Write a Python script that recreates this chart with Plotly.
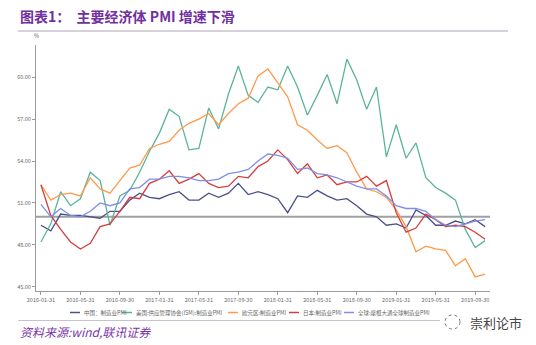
import pandas as pd
import plotly.graph_objects as go

dates = [d.strftime("%Y-%m-%d") for d in pd.date_range("2016-01-31", periods=46, freq="ME")]

china = [49.4, 49.0, 50.2, 50.1, 50.1, 50.0, 49.9, 50.4, 50.4, 51.2, 51.7, 51.4,
         51.3, 51.6, 51.8, 51.2, 51.2, 51.7, 51.4, 51.7, 52.4, 51.6, 51.8, 51.6,
         51.3, 50.3, 51.5, 51.4, 51.9, 51.5, 51.2, 51.3, 50.8, 50.2, 50.0, 49.4,
         49.5, 49.2, 50.5, 50.1, 49.4, 49.4, 49.7, 49.5, 49.8, 49.3]
usa = [48.2, 49.5, 51.8, 50.8, 51.3, 53.2, 52.6, 49.4, 51.5, 51.9, 53.2, 54.7,
       56.0, 57.7, 57.2, 54.8, 54.9, 57.8, 56.3, 58.8, 60.8, 58.7, 58.2, 59.3,
       59.1, 60.8, 59.3, 57.3, 58.7, 60.2, 58.1, 61.3, 59.8, 57.7, 59.3, 54.3,
       56.6, 54.2, 55.3, 52.8, 52.1, 51.7, 51.2, 49.1, 47.8, 48.3]
euro = [52.3, 51.2, 51.6, 51.7, 51.5, 52.8, 52.0, 51.7, 52.6, 53.5, 53.7, 54.9,
        55.2, 55.4, 56.2, 56.7, 57.0, 57.4, 56.6, 57.4, 58.1, 58.5, 60.1, 60.6,
        59.6, 58.6, 56.6, 56.2, 55.5, 54.9, 55.1, 54.6, 53.2, 52.0, 51.8, 51.4,
        50.5, 49.3, 47.5, 47.9, 47.7, 47.6, 46.5, 47.0, 45.7, 45.9]
japan = [52.3, 50.1, 49.1, 48.2, 47.7, 48.1, 49.3, 49.5, 50.4, 51.4, 51.3, 52.4,
         52.7, 53.3, 52.4, 52.7, 53.1, 52.4, 52.1, 52.2, 52.9, 52.8, 53.6, 54.0,
         54.8, 54.1, 53.1, 53.8, 52.8, 53.0, 52.3, 52.5, 52.5, 52.9, 52.2, 52.6,
         50.3, 48.9, 49.2, 50.2, 49.8, 49.3, 49.4, 49.3, 48.9, 48.4]
world = [50.9, 50.0, 50.6, 50.1, 50.0, 50.4, 51.0, 50.8, 51.0, 52.0, 52.1, 52.7,
         52.7, 52.9, 52.9, 52.8, 52.6, 52.6, 52.7, 53.1, 53.2, 53.4, 54.0, 54.5,
         54.4, 54.2, 53.4, 53.5, 53.1, 53.0, 52.8, 52.5, 52.2, 52.0, 52.0, 51.5,
         50.8, 50.6, 50.6, 50.4, 49.8, 49.4, 49.3, 49.5, 49.7, 49.8]

series_names = ["中国：制造业PMI", "美国:供应管理协会(ISM):制造业PMI", "欧元区:制造业PMI",
                "日本:制造业PMI", "全球:摩根大通全球制造业PMI"]
series_values = [china, usa, euro, japan, world]
colors = ["#4B5089", "#5BB49B", "#FF9A4A", "#D63E3E", "#7F8FE8"]
BASELINE = 50
y_ticks = [45, 48, 51, 54, 57, 60]

fig = go.Figure()
for name, vals, c in zip(series_names, series_values, colors):
    fig.add_trace(go.Scatter(x=dates, y=vals, mode="lines", name=name,
                             line=dict(color=c, width=1.3), showlegend=False))

fig.add_shape(type="line", xref="paper", x0=0, x1=1, yref="y", y0=BASELINE, y1=BASELINE,
              line=dict(color="#A0A0A0", width=2), layer="below")

fig.update_layout(
    width=536, height=345,
    margin=dict(l=36, r=46, t=45, b=54),
    plot_bgcolor="white", paper_bgcolor="white",
    font=dict(family="Noto Sans CJK SC", color="#666666"),
    xaxis=dict(type="category", range=[-0.5, 45.5],
               tickvals=dates[::4], ticktext=dates[::4],
               tickfont=dict(size=5.5, color="#666666"),
               showline=True, linecolor="#9A9A9A", linewidth=1,
               ticks="outside", ticklen=3, tickcolor="#9A9A9A",
               showgrid=False, zeroline=False, tickangle=0),
    yaxis=dict(range=[44.69, 62.31], tickvals=y_ticks,
               ticktext=[f"{v:.2f}" for v in y_ticks],
               tickfont=dict(size=5.5, color="#666666"),
               showline=True, linecolor="#9A9A9A", linewidth=1,
               ticks="outside", ticklen=3, tickcolor="#9A9A9A",
               showgrid=False, zeroline=False),
)

W, H = 536, 345
def px(x):
    return x / W
def py(y):
    return 1 - y / H

ann = []
shapes = []
# title
ann.append(dict(text="<b>图表1：  主要经济体 PMI 增速下滑</b>", xref="paper", yref="paper",
                x=0, y=0, showarrow=False))
fig.layout.annotations = []
# use container coordinates via paper conversion
plot_l, plot_r, plot_t, plot_b = 36, 490, 45, 291
def pxp(x):
    return (x - plot_l) / (plot_r - plot_l)
def pyp(y):
    return (plot_b - y) / (plot_b - plot_t)

annotations = [
    dict(text="<b>图表1：  主要经济体 PMI 增速下滑</b>", x=pxp(18), y=pyp(16), xanchor="left", yanchor="middle",
         font=dict(size=14, color="#7030A0", family="Noto Sans CJK SC")),
    dict(text="%", x=pxp(36), y=pyp(36), xanchor="center", yanchor="middle",
         font=dict(size=5.5, color="#666666")),
    dict(text="<i>资料来源:wind,联讯证券</i>", x=pxp(18), y=pyp(331), xanchor="left", yanchor="middle",
         font=dict(size=12, color="#7A35A8", family="Noto Sans CJK SC")),
    dict(text="崇利论市", x=pxp(468), y=pyp(322), xanchor="left", yanchor="middle",
         font=dict(size=13, color="#444444", family="Noto Sans CJK SC")),
]
legend_x = [70, 122, 228, 289, 344]
for lx, name, c in zip(legend_x, series_names, colors):
    shapes.append(dict(type="line", xref="paper", yref="paper", x0=pxp(lx), x1=pxp(lx + 10),
                       y0=pyp(312.5), y1=pyp(312.5), line=dict(color=c, width=1.5)))
    annotations.append(dict(text=name, x=pxp(lx + 12), y=pyp(312.5), xanchor="left", yanchor="middle",
                            font=dict(size=5.5, color="#666666")))
for a in annotations:
    a.update(xref="paper", yref="paper", showarrow=False)

shapes.append(dict(type="line", xref="paper", yref="paper", x0=pxp(18), x1=pxp(508),
                   y0=pyp(31), y1=pyp(31), line=dict(color="#C8C2CE", width=1.5)))
shapes.append(dict(type="line", xref="paper", yref="paper", x0=pxp(18), x1=pxp(440),
                   y0=pyp(320.5), y1=pyp(320.5), line=dict(color="#C8C2CE", width=1)))
shapes.append(dict(type="circle", xref="paper", yref="paper", x0=pxp(445), x1=pxp(460),
                   y0=pyp(315), y1=pyp(329), line=dict(color="#777777", width=1, dash="dot")))

fig.update_layout(annotations=annotations)
for s in shapes:
    fig.add_shape(**s)

fig.write_html("out.html")
